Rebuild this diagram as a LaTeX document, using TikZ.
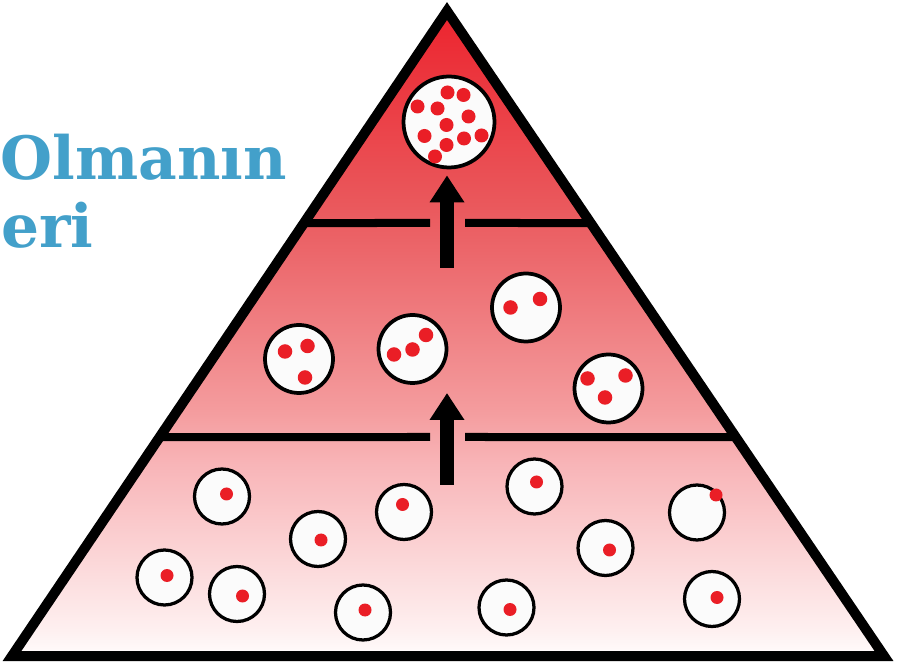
\documentclass[tikz,border=0pt]{standalone}
\usepackage{fontspec}
\newfontfamily\headfont{DejaVu Serif}
\usetikzlibrary{arrows.meta,calc}
\definecolor{TitleBlue}{RGB}{67,160,202}
\definecolor{DotRed}{RGB}{234,30,38}
\definecolor{CellWhite}{RGB}{251,251,251}
\definecolor{ShadeA}{RGB}{255,252,252}
\definecolor{ShadeB}{RGB}{254,240,240}
\definecolor{ShadeC}{RGB}{248,180,183}
\definecolor{ShadeD}{RGB}{244,156,158}
\definecolor{ShadeE}{RGB}{236,104,108}
\definecolor{ShadeF}{RGB}{234,88,92}
\definecolor{ShadeG}{RGB}{236,36,46}
\pgfdeclareverticalshading{pyrshade}{100bp}{color(0bp)=(ShadeA); color(25bp)=(ShadeA);
  color(27bp)=(ShadeB); color(40bp)=(ShadeC); color(44bp)=(ShadeD);
  color(56bp)=(ShadeE); color(60bp)=(ShadeF); color(75bp)=(ShadeG); color(100bp)=(ShadeG)}
\tikzset{
  pyramid/.style={line width=0.2cm,line join=miter,draw=black},
  tierline/.style={line width=0.16cm,draw=black},
  cell/.style={circle,draw=black,line width=0.075cm,fill=CellWhite,inner sep=0pt},
  bigcell/.style={cell,minimum size=1.82cm},
  midcell/.style={cell,minimum size=1.36cm},
  smallcell/.style={cell,minimum size=1.10cm,line width=0.065cm},
  rise/.style={-{Triangle[width=0.66cm,length=0.54cm]},line width=0.29cm,draw=black},
  dot/.style={fill=DotRed},
  heading/.style={font=\headfont\bfseries\fontsize{34}{40}\selectfont,text=TitleBlue,inner sep=0pt}
}
\begin{document}
\begin{tikzpicture}
  \useasboundingbox (0,0) rectangle (17.96,13.28);

  % title
  \node[heading,anchor=base west] (title1) at (0.0,9.68) {Olmanın};
  \node[heading,anchor=base west] (title2) at (0.02,8.32) {eri};

  % pyramid
  \coordinate (apex) at (8.94,13.06);
  \coordinate (bl) at (0.24,0.16);
  \coordinate (br) at (17.68,0.16);
  \shade[shading=pyrshade] (apex) -- (bl) -- (br) -- cycle;

  % tier lines, open round the arrows
  \coordinate (l1) at ($(apex)!0.3287!(bl)$);
  \coordinate (r1) at ($(apex)!0.3287!(br)$);
  \coordinate (l2) at ($(apex)!0.6605!(bl)$);
  \coordinate (r2) at ($(apex)!0.6605!(br)$);
  \draw[tierline] (l1) -- (8.60,8.82);
  \draw[tierline] (9.30,8.82) -- (r1);
  \draw[tierline] (l2) -- (8.60,4.54);
  \draw[tierline] (9.30,4.54) -- (r2);

  % top cell
  \node[bigcell] (top) at (8.98,10.84) {};
  \foreach \dx/\dy in {-0.03/0.59,0.29/0.54,-0.63/0.31,-0.23/0.27,0.39/0.11,-0.05/-0.06,
      -0.49/-0.28,0.30/-0.33,0.65/-0.27,-0.05/-0.46,-0.28/-0.69}
    \fill[dot] ($(top)+(\dx,\dy)$) circle (0.14);

  % middle cells
  \node[midcell] (m1) at (5.98,6.10) {};
  \node[midcell] (m2) at (8.25,6.30) {};
  \node[midcell] (m3) at (10.52,7.13) {};
  \node[midcell] (m4) at (12.17,5.51) {};
  \foreach \c/\dx/\dy in {m1/-0.28/0.15,m1/0.17/0.26,m1/0.12/-0.37,
      m2/-0.37/-0.11,m2/0.0/-0.01,m2/0.27/0.28,
      m3/-0.31/0.0,m3/0.28/0.17,
      m4/-0.42/0.20,m4/0.34/0.26,m4/-0.07/-0.18}
    \fill[dot] ($(\c)+(\dx,\dy)$) circle (0.145);

  % bottom cells
  \foreach \n/\x/\y/\dx/\dy in {b1/4.44/3.35/0.09/0.05,b2/6.36/2.50/0.06/-0.02,
      b3/8.08/3.04/-0.03/0.15,b4/3.29/1.73/0.05/0.04,b5/4.74/1.40/0.11/-0.04,
      b6/7.26/1.03/0.04/0.05,b7/10.69/3.55/0.04/0.09,b8/12.11/2.32/0.08/-0.04,
      b9/13.94/3.03/0.38/0.35,b10/10.13/1.13/0.07/-0.04,b11/14.24/1.30/0.10/0.03}{
    \node[smallcell] (\n) at (\x,\y) {};
    \fill[dot] ($(\n)+(\dx,\dy)$) circle (0.13);
  }

  % arrows
  \coordinate (a1) at (8.94,7.92);
  \coordinate (a2) at (8.94,3.58);
  \coordinate (a2tip) at (8.94,5.42);
  \draw[rise] (a1) -- ([yshift=-0.12cm]a1 |- top.south);
  \draw[rise] (a2) -- (a2tip);

  % outline
  \draw[pyramid] (apex) -- (bl) -- (br) -- cycle;
\end{tikzpicture}
\end{document}
